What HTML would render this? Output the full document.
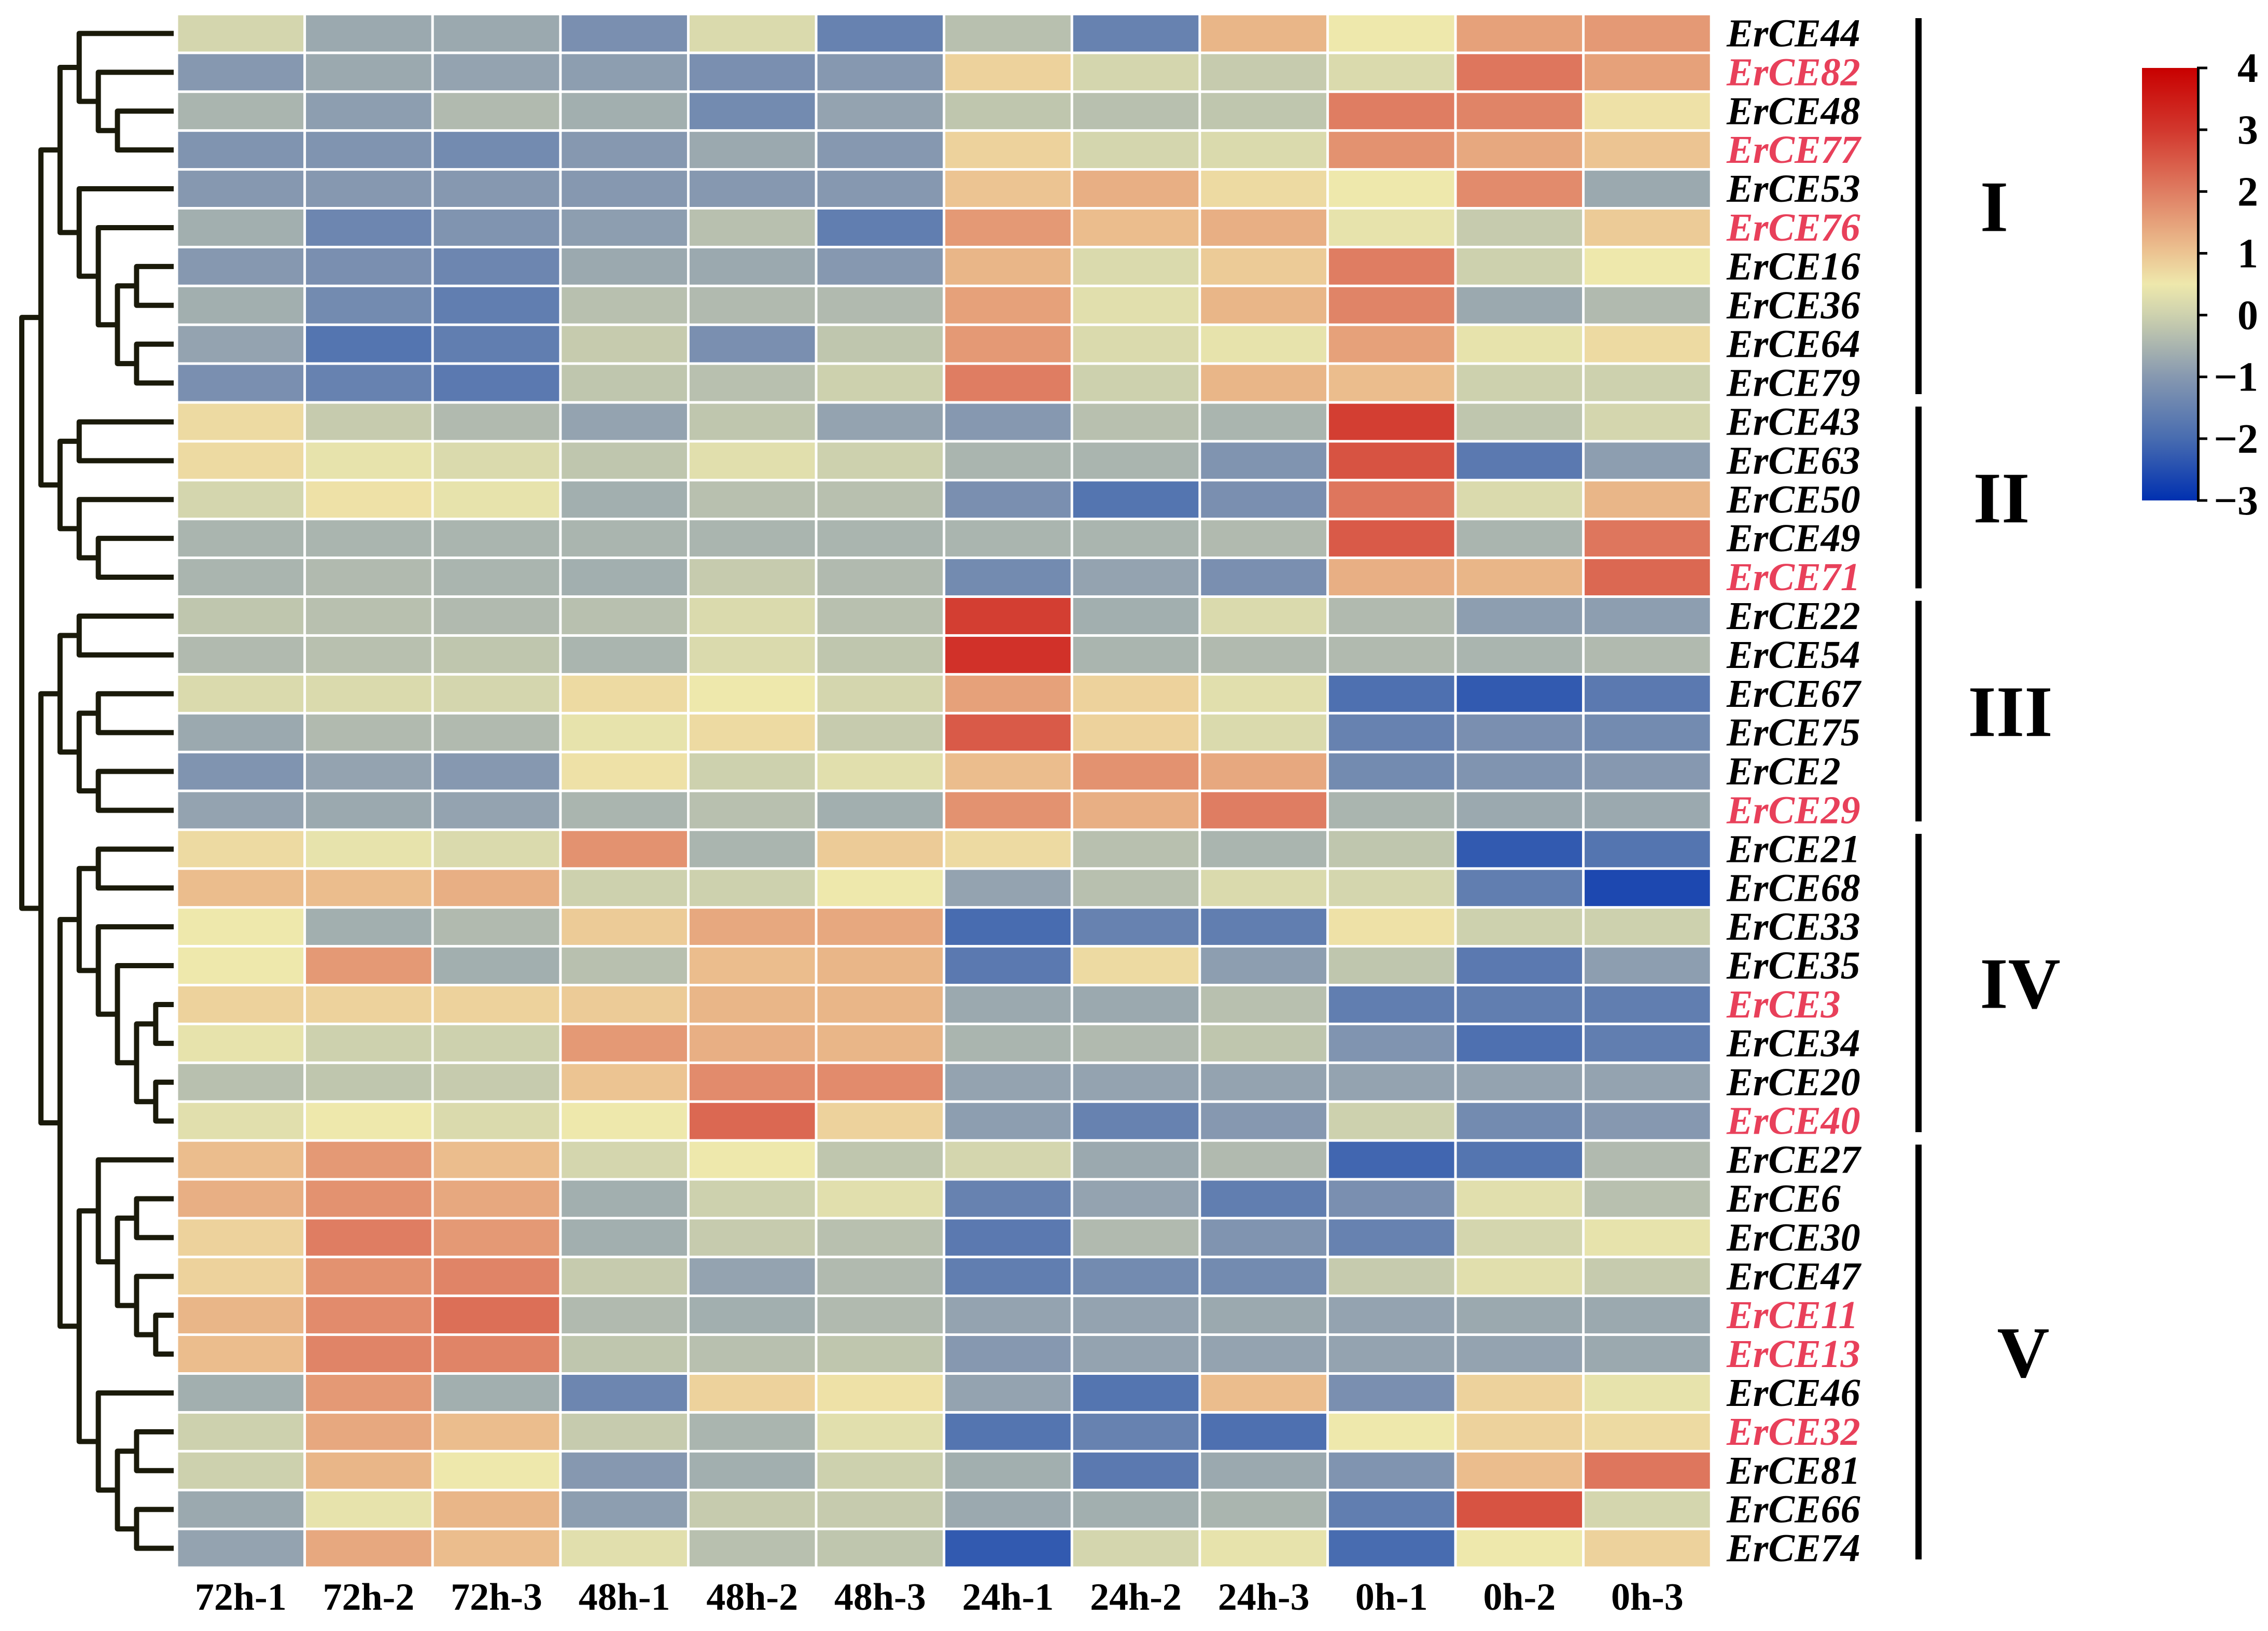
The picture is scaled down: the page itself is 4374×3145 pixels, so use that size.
<!DOCTYPE html>
<html>
<head>
<meta charset="utf-8">
<style>
html,body{margin:0;padding:0;background:#fff;}
svg{display:block;}
text{font-family:"Liberation Serif",serif;font-weight:bold;}
</style>
</head>
<body>
<svg id="chart" width="4374" height="3145" viewBox="0 0 4374 3145" xmlns="http://www.w3.org/2000/svg">
<defs>
<linearGradient id="cbgrad" x1="0" y1="1" x2="0" y2="0"></linearGradient>
</defs>
<g id="dendro"></g>
<g id="cells"></g>
<g id="rowlabels"></g>
<g id="collabels"></g>
<g id="groups"></g>
<g id="colorbar"></g>
</svg>
<script>
const genes = ["ErCE44","ErCE82","ErCE48","ErCE77","ErCE53","ErCE76","ErCE16","ErCE36","ErCE64","ErCE79","ErCE43","ErCE63","ErCE50","ErCE49","ErCE71","ErCE22","ErCE54","ErCE67","ErCE75","ErCE2","ErCE29","ErCE21","ErCE68","ErCE33","ErCE35","ErCE3","ErCE34","ErCE20","ErCE40","ErCE27","ErCE6","ErCE30","ErCE47","ErCE11","ErCE13","ErCE46","ErCE32","ErCE81","ErCE66","ErCE74"];
const redGenes = ["ErCE82","ErCE77","ErCE76","ErCE71","ErCE29","ErCE3","ErCE40","ErCE11","ErCE13","ErCE32"];
const samples = ["72h-1","72h-2","72h-3","48h-1","48h-2","48h-3","24h-1","24h-2","24h-3","0h-1","0h-2","0h-3"];
const values = [
[0.1,-0.7,-0.7,-1.2,0.2,-1.5,-0.3,-1.5,1.2,0.5,1.5,1.6],
[-1,-0.7,-0.8,-0.9,-1.2,-1,0.8,0.1,-0.1,0.2,2.1,1.5],
[-0.5,-0.9,-0.4,-0.6,-1.3,-0.8,-0.2,-0.3,-0.2,2.0,1.9,0.6],
[-1.1,-1.1,-1.3,-1,-0.7,-1,0.8,0.1,0.2,1.7,1.4,1.0],
[-1,-1,-1,-1,-1,-1,1.0,1.3,0.7,0.5,1.8,-0.7],
[-0.6,-1.4,-1.1,-0.9,-0.3,-1.6,1.6,1.1,1.3,0.4,-0.1,0.9],
[-1,-1.2,-1.4,-0.7,-0.7,-1,1.2,0.2,0.9,2.0,0.0,0.5],
[-0.6,-1.3,-1.6,-0.3,-0.4,-0.4,1.5,0.3,1.2,1.9,-0.7,-0.4],
[-0.8,-1.8,-1.6,-0.1,-1.2,-0.2,1.6,0.2,0.4,1.5,0.4,0.7],
[-1.2,-1.5,-1.7,-0.2,-0.3,0.0,2.0,0.0,1.2,1.1,0.0,0.0],
[0.7,-0.1,-0.4,-0.8,-0.2,-0.8,-1,-0.3,-0.5,2.9,-0.2,0.1],
[0.7,0.4,0.2,-0.2,0.3,0.0,-0.5,-0.5,-1.1,2.6,-1.7,-0.9],
[0.1,0.6,0.4,-0.6,-0.3,-0.3,-1.2,-1.8,-1.2,2.1,0.2,1.2],
[-0.5,-0.5,-0.5,-0.5,-0.5,-0.5,-0.5,-0.5,-0.4,2.5,-0.5,2.1],
[-0.5,-0.4,-0.5,-0.6,-0.1,-0.4,-1.3,-0.8,-1.2,1.3,1.2,2.3],
[-0.2,-0.3,-0.4,-0.3,0.2,-0.3,2.9,-0.6,0.2,-0.4,-0.9,-0.9],
[-0.4,-0.3,-0.2,-0.5,0.2,-0.2,3.1,-0.5,-0.4,-0.4,-0.5,-0.4],
[0.2,0.2,0.1,0.7,0.5,0.1,1.5,0.8,0.3,-1.9,-2.3,-1.7],
[-0.7,-0.4,-0.4,0.4,0.7,-0.1,2.5,0.8,0.2,-1.5,-1.2,-1.3],
[-1.1,-0.8,-1,0.6,0.0,0.3,1.1,1.7,1.4,-1.3,-1.1,-1],
[-0.8,-0.7,-0.8,-0.5,-0.3,-0.6,1.7,1.3,2.0,-0.5,-0.7,-0.7],
[0.7,0.4,0.2,1.7,-0.5,0.9,0.7,-0.3,-0.5,-0.2,-2.3,-1.8],
[1.1,1.1,1.3,0.0,0.0,0.5,-0.8,-0.3,0.2,0.1,-1.6,-2.6],
[0.5,-0.6,-0.4,0.9,1.4,1.4,-2.0,-1.5,-1.6,0.6,0.0,0.0],
[0.5,1.6,-0.6,-0.3,1.1,1.2,-1.7,0.7,-0.9,-0.2,-1.7,-0.9],
[0.8,0.8,0.8,0.9,1.2,1.2,-0.7,-0.7,-0.3,-1.6,-1.6,-1.6],
[0.4,0.0,0.0,1.6,1.3,1.2,-0.5,-0.4,-0.2,-1.1,-1.9,-1.6],
[-0.3,-0.2,-0.1,1.0,1.8,1.8,-0.8,-0.8,-0.8,-0.8,-0.8,-0.8],
[0.3,0.5,0.2,0.5,2.3,0.8,-0.9,-1.5,-1,0.0,-1.3,-1],
[1.1,1.6,1.1,0.1,0.5,-0.2,0.1,-0.7,-0.4,-2.1,-1.8,-0.4],
[1.3,1.7,1.4,-0.6,0.0,0.3,-1.5,-0.8,-1.6,-1.2,0.3,-0.3],
[0.8,2.0,1.6,-0.6,-0.1,-0.3,-1.7,-0.4,-1.1,-1.5,0.1,0.4],
[0.8,1.7,1.9,-0.1,-0.8,-0.4,-1.6,-1.3,-1.3,-0.1,0.3,-0.1],
[1.2,1.8,2.2,-0.4,-0.6,-0.4,-0.8,-0.8,-0.7,-0.8,-0.7,-0.7],
[1.1,1.9,1.9,-0.2,-0.3,-0.2,-1,-0.8,-0.8,-0.8,-0.8,-0.7],
[-0.6,1.6,-0.6,-1.4,0.8,0.6,-0.8,-1.8,1.1,-1.2,0.8,0.4],
[0.0,1.4,1.1,-0.1,-0.5,0.3,-1.8,-1.5,-1.9,0.5,0.8,0.7],
[0.0,1.2,0.5,-1.0,-0.6,0.0,-0.6,-1.7,-0.7,-1.1,1.1,2.1],
[-0.7,0.4,1.2,-0.9,-0.1,-0.1,-0.7,-0.6,-0.5,-1.6,2.6,0.1],
[-0.8,1.4,1.1,0.3,-0.3,-0.2,-2.3,0.1,0.4,-2.0,0.5,0.8]
];
const groupNames = ["I","II","III","IV","V"];
const groupStart = [0,10,15,21,29];
const groupEnd = [9,14,20,28,39];
const colorTicks = [4,3,2,1,0,-1,-2,-3];
const stopVals = [-3,-2,-1,0,0.5,1,2,3,4];
const stopCols = [[0,48,176],[72,108,176],[134,152,176],[205,209,174],[238,232,172],[236,196,146],[223,125,98],[210,55,45],[200,0,0]];
const treeI = [2,[3,0,[4,1,[5,2,3]]],[3,4,[4,5,[5,[6,6,7],[6,8,9]]]]];
const treeII = [2,[3,10,11],[3,12,[4,13,14]]];
const treeIII = [2,[3,15,16],[3,[4,17,18],[4,19,20]]];
const treeIV = [3,[4,21,22],[4,23,[5,24,[6,[7,25,26],[7,27,28]]]]];
const treeV = [3,[4,29,[5,[6,30,31],[6,32,[7,33,34]]]],[4,35,[5,[6,36,37],[6,38,39]]]];
const tree = [0,[1,treeI,treeII],[1,treeIII,[2,treeIV,treeV]]];

const NS = "http://www.w3.org/2000/svg";
const X0 = 341, Y0 = 27, CW = 246.6, RH = 74.9;
const xCol = c => X0 + c * CW;
const yRow = r => Y0 + r * RH;
const levelX = l => 42 + l * 36.9;
const LEAFX = 335;
const groupX = [3846, 3860, 3877, 3896, 3902];
function color(v){
  v = Math.max(-3, Math.min(4, v));
  for (let i = 0; i < stopVals.length - 1; i++){
    if (v <= stopVals[i+1]){
      const t = (v - stopVals[i]) / (stopVals[i+1] - stopVals[i]);
      const a = stopCols[i], b = stopCols[i+1];
      return "rgb(" + a.map((x,k)=>Math.round(x + (b[k]-x)*t)).join(",") + ")";
    }
  }
  return "rgb(200,0,0)";
}
function mk(tag, attrs, parent){
  const e = document.createElementNS(NS, tag);
  for (const k in attrs) e.setAttribute(k, attrs[k]);
  parent.appendChild(e);
  return e;
}
const gc = document.getElementById("cells");
values.forEach((row, r) => {
  row.forEach((v, c) => {
    const rect = mk("rect", {x: xCol(c)+2.5, y: yRow(r)+2.5, width: CW-5, height: RH-5, fill: color(v)}, gc);
    
    
  });
});
const gl = document.getElementById("rowlabels");
genes.forEach((g, r) => {
  const t = mk("text", {x: 3330, y: yRow(r) + RH/2 + 25, "font-size": 76, "font-style": "italic", fill: redGenes.includes(g) ? "#e8405a" : "#000"}, gl);
  t.textContent = g;
  
  
});
const gcl = document.getElementById("collabels");
samples.forEach((s, c) => {
  const t = mk("text", {x: xCol(c) + CW/2, y: 3104, "font-size": 74, "text-anchor": "middle", fill: "#000"}, gcl);
  t.textContent = s;
  
  
});
const gg = document.getElementById("groups");
groupNames.forEach((n, i) => {
  const y1 = yRow(groupStart[i]) + 8, y2 = yRow(groupEnd[i] + 1) - 16;
  const ln = mk("rect", {x: 3694, y: y1, width: 12, height: y2 - y1, fill: "#000"}, gg);
  
  
  const t = mk("text", {x: groupX[i], y: (y1 + y2)/2 + 48, "font-size": 140, "text-anchor": "middle", fill: "#000"}, gg);
  t.textContent = n;
  
  
});
const gd = document.getElementById("dendro");
function draw(node){
  if (typeof node === "number") return {x: LEAFX, y: yRow(node) + RH/2};
  const x = levelX(node[0]);
  const a = draw(node[1]), b = draw(node[2]);
  const p = mk("path", {d: `M${a.x},${a.y}H${x}V${b.y}H${b.x}`, fill: "none", stroke: "#1a1a0a", "stroke-width": 10, "stroke-linejoin": "round"}, gd);
  
  
  return {x: x, y: (a.y + b.y)/2};
}
draw(tree);
const grad = document.getElementById("cbgrad");
stopVals.forEach((v, i) => {
  mk("stop", {offset: ((v + 3)/7*100) + "%", "stop-color": color(v)}, grad);
});
const gb = document.getElementById("colorbar");
const CB_TOP = 131, CB_BOT = 965, CB_X = 4131, CB_W = 106;
const yCB = v => CB_BOT - (v + 3)/7 * (CB_BOT - CB_TOP);
const bar = mk("rect", {x: CB_X, y: CB_TOP, width: CB_W, height: CB_BOT - CB_TOP, fill: "url(#cbgrad)"}, gb);


const ax = mk("rect", {x: CB_X + CB_W, y: CB_TOP - 2, width: 5, height: CB_BOT - CB_TOP + 4, fill: "#000"}, gb);


colorTicks.forEach(v => {
  const tk = mk("rect", {x: CB_X + CB_W, y: yCB(v) - 2.5, width: 20, height: 5, fill: "#000"}, gb);
  
  
  const t = mk("text", {x: 4355, y: yCB(v) + 27, "font-size": 80, "text-anchor": "end", fill: "#000"}, gb);
  t.textContent = v < 0 ? "\u2212" + Math.abs(v) : String(v);
  
  
});
</script>
</body>
</html>
